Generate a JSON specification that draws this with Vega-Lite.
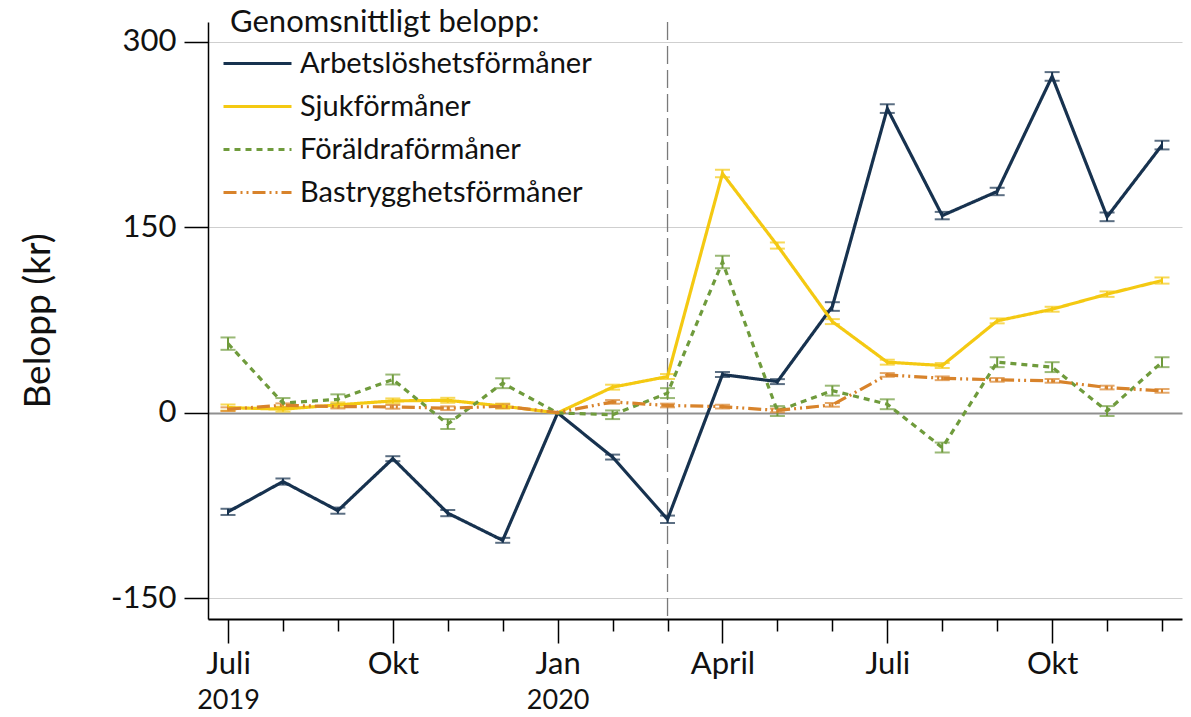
{
  "$schema": "https://vega.github.io/schema/vega-lite/v6.json",
  "autosize": {"type": "none"},
  "width": 974,
  "height": 597,
  "padding": {"left": 208, "top": 22, "right": 9, "bottom": 98},
  "background": "white",
  "config": {
    "font": "Lato",
    "view": {"stroke": null},
    "axis": {"labelFont": "Lato", "titleFont": "Lato", "labelColor": "#111", "titleColor": "#111", "domainColor": "#000", "tickColor": "#000"}
  },
  "datasets": {
    "d": [
      {"m": 0, "s": "Arbetslöshetsförmåner", "v": -80, "lo": -82.5, "hi": -77.5},
      {"m": 1, "s": "Arbetslöshetsförmåner", "v": -55.5, "lo": -58, "hi": -53},
      {"m": 2, "s": "Arbetslöshetsförmåner", "v": -79, "lo": -81.5, "hi": -76.5},
      {"m": 3, "s": "Arbetslöshetsförmåner", "v": -37, "lo": -39, "hi": -35},
      {"m": 4, "s": "Arbetslöshetsförmåner", "v": -81, "lo": -83.5, "hi": -78.5},
      {"m": 5, "s": "Arbetslöshetsförmåner", "v": -103, "lo": -105, "hi": -101},
      {"m": 6, "s": "Arbetslöshetsförmåner", "v": 0, "lo": 0, "hi": 0},
      {"m": 7, "s": "Arbetslöshetsförmåner", "v": -35.7, "lo": -37.7, "hi": -33.7},
      {"m": 8, "s": "Arbetslöshetsförmåner", "v": -86, "lo": -89, "hi": -83},
      {"m": 9, "s": "Arbetslöshetsförmåner", "v": 31, "lo": 29, "hi": 33},
      {"m": 10, "s": "Arbetslöshetsförmåner", "v": 25.3, "lo": 23.3, "hi": 27.3},
      {"m": 11, "s": "Arbetslöshetsförmåner", "v": 86, "lo": 82.5, "hi": 89.5},
      {"m": 12, "s": "Arbetslöshetsförmåner", "v": 246, "lo": 242.5, "hi": 249.5},
      {"m": 13, "s": "Arbetslöshetsförmåner", "v": 159.5, "lo": 156.5, "hi": 162.5},
      {"m": 14, "s": "Arbetslöshetsförmåner", "v": 179, "lo": 176, "hi": 182},
      {"m": 15, "s": "Arbetslöshetsförmåner", "v": 272, "lo": 268.5, "hi": 275.5},
      {"m": 16, "s": "Arbetslöshetsförmåner", "v": 158.5, "lo": 155, "hi": 162},
      {"m": 17, "s": "Arbetslöshetsförmåner", "v": 216.5, "lo": 213, "hi": 220},
      {"m": 0, "s": "Sjukförmåner", "v": 4.3, "lo": 1.8, "hi": 6.8},
      {"m": 1, "s": "Sjukförmåner", "v": 3, "lo": 1, "hi": 5},
      {"m": 2, "s": "Sjukförmåner", "v": 6.5, "lo": 4.5, "hi": 8.5},
      {"m": 3, "s": "Sjukförmåner", "v": 9.7, "lo": 7.7, "hi": 11.7},
      {"m": 4, "s": "Sjukförmåner", "v": 10.2, "lo": 8.2, "hi": 12.2},
      {"m": 5, "s": "Sjukförmåner", "v": 5.5, "lo": 3.5, "hi": 7.5},
      {"m": 6, "s": "Sjukförmåner", "v": 0, "lo": 0, "hi": 0},
      {"m": 7, "s": "Sjukförmåner", "v": 20.8, "lo": 18.8, "hi": 22.8},
      {"m": 8, "s": "Sjukförmåner", "v": 29.4, "lo": 27.4, "hi": 31.4},
      {"m": 9, "s": "Sjukförmåner", "v": 193.5, "lo": 190.5, "hi": 196.5},
      {"m": 10, "s": "Sjukförmåner", "v": 135.3, "lo": 132.8, "hi": 137.8},
      {"m": 11, "s": "Sjukförmåner", "v": 73.8, "lo": 71.8, "hi": 75.8},
      {"m": 12, "s": "Sjukförmåner", "v": 41, "lo": 39, "hi": 43},
      {"m": 13, "s": "Sjukförmåner", "v": 38.3, "lo": 36.3, "hi": 40.3},
      {"m": 14, "s": "Sjukförmåner", "v": 74.4, "lo": 72.4, "hi": 76.4},
      {"m": 15, "s": "Sjukförmåner", "v": 83.8, "lo": 81.8, "hi": 85.8},
      {"m": 16, "s": "Sjukförmåner", "v": 96, "lo": 93.8, "hi": 98.2},
      {"m": 17, "s": "Sjukförmåner", "v": 107, "lo": 104.5, "hi": 109.5},
      {"m": 0, "s": "Föräldraförmåner", "v": 56, "lo": 51, "hi": 61},
      {"m": 1, "s": "Föräldraförmåner", "v": 8, "lo": 4, "hi": 12},
      {"m": 2, "s": "Föräldraförmåner", "v": 11, "lo": 7, "hi": 15},
      {"m": 3, "s": "Föräldraförmåner", "v": 27, "lo": 23, "hi": 31},
      {"m": 4, "s": "Föräldraförmåner", "v": -9, "lo": -13, "hi": -5},
      {"m": 5, "s": "Föräldraförmåner", "v": 24, "lo": 20, "hi": 28},
      {"m": 6, "s": "Föräldraförmåner", "v": 0, "lo": 0, "hi": 0},
      {"m": 7, "s": "Föräldraförmåner", "v": -1.5, "lo": -5, "hi": 2},
      {"m": 8, "s": "Föräldraförmåner", "v": 16, "lo": 12, "hi": 20},
      {"m": 9, "s": "Föräldraförmåner", "v": 122, "lo": 117, "hi": 127},
      {"m": 10, "s": "Föräldraförmåner", "v": 1.5, "lo": -2.5, "hi": 5.5},
      {"m": 11, "s": "Föräldraförmåner", "v": 18, "lo": 14, "hi": 22},
      {"m": 12, "s": "Föräldraförmåner", "v": 7, "lo": 3, "hi": 11},
      {"m": 13, "s": "Föräldraförmåner", "v": -28, "lo": -32, "hi": -24},
      {"m": 14, "s": "Föräldraförmåner", "v": 41, "lo": 37, "hi": 45},
      {"m": 15, "s": "Föräldraförmåner", "v": 37, "lo": 33, "hi": 41},
      {"m": 16, "s": "Föräldraförmåner", "v": 1.5, "lo": -2.5, "hi": 5.5},
      {"m": 17, "s": "Föräldraförmåner", "v": 41, "lo": 37, "hi": 45},
      {"m": 0, "s": "Bastrygghetsförmåner", "v": 3, "lo": 1.5, "hi": 4.5},
      {"m": 1, "s": "Bastrygghetsförmåner", "v": 6.2, "lo": 4.7, "hi": 7.7},
      {"m": 2, "s": "Bastrygghetsförmåner", "v": 5.1, "lo": 3.6, "hi": 6.6},
      {"m": 3, "s": "Bastrygghetsförmåner", "v": 4.9, "lo": 3.4, "hi": 6.4},
      {"m": 4, "s": "Bastrygghetsförmåner", "v": 3.8, "lo": 2.3, "hi": 5.3},
      {"m": 5, "s": "Bastrygghetsförmåner", "v": 5.4, "lo": 3.9, "hi": 6.9},
      {"m": 6, "s": "Bastrygghetsförmåner", "v": 0.3, "lo": 0, "hi": 0.6},
      {"m": 7, "s": "Bastrygghetsförmåner", "v": 8.9, "lo": 7.4, "hi": 10.4},
      {"m": 8, "s": "Bastrygghetsförmåner", "v": 6, "lo": 4.5, "hi": 7.5},
      {"m": 9, "s": "Bastrygghetsförmåner", "v": 5.1, "lo": 3.6, "hi": 6.6},
      {"m": 10, "s": "Bastrygghetsförmåner", "v": 2, "lo": 0.5, "hi": 3.5},
      {"m": 11, "s": "Bastrygghetsförmåner", "v": 6.5, "lo": 5, "hi": 8},
      {"m": 12, "s": "Bastrygghetsförmåner", "v": 30.7, "lo": 29.2, "hi": 32.2},
      {"m": 13, "s": "Bastrygghetsförmåner", "v": 28, "lo": 26.5, "hi": 29.5},
      {"m": 14, "s": "Bastrygghetsförmåner", "v": 26.7, "lo": 25.2, "hi": 28.2},
      {"m": 15, "s": "Bastrygghetsförmåner", "v": 25.9, "lo": 24.4, "hi": 27.4},
      {"m": 16, "s": "Bastrygghetsförmåner", "v": 20.5, "lo": 19, "hi": 22},
      {"m": 17, "s": "Bastrygghetsförmåner", "v": 17.8, "lo": 16.3, "hi": 19.3}
    ]
  },
  "resolve": {"axis": {"x": "independent"}},
  "layer": [
    {
      "data": {"values": [{"marker": "mars 2020"}]},
      "mark": {"type": "rule", "color": "#7a7a7a", "strokeWidth": 1.3, "strokeDash": [18, 6]},
      "encoding": {
        "x": {"datum": 8, "type": "quantitative",
          "scale": {"domain": [-0.364, 17.364], "nice": false, "zero": false},
          "axis": {"orient": "bottom", "values": [0, 6], "labelExpr": "datum.value == 0 ? '2019' : '2020'", "ticks": false, "domain": false, "grid": false, "labelFontSize": 27, "labelPadding": 68, "title": null, "labelBaseline": "top"}}
      }
    },
    {
      "data": {"name": "d"},
      "mark": {"type": "rule", "strokeWidth": 2},
      "encoding": {
        "x": {"field": "m", "type": "quantitative", "axis": null},
        "y": {"field": "lo", "type": "quantitative"},
        "y2": {"field": "hi"},
        "color": {"field": "s", "type": "nominal"}
      }
    },
    {
      "data": {"name": "d"},
      "mark": {"type": "tick", "orient": "horizontal", "size": 15, "thickness": 2},
      "encoding": {
        "x": {"field": "m", "type": "quantitative", "axis": null},
        "y": {"field": "lo", "type": "quantitative"},
        "color": {"field": "s", "type": "nominal"}
      }
    },
    {
      "data": {"name": "d"},
      "mark": {"type": "tick", "orient": "horizontal", "size": 15, "thickness": 2},
      "encoding": {
        "x": {"field": "m", "type": "quantitative", "axis": null},
        "y": {"field": "hi", "type": "quantitative"},
        "color": {"field": "s", "type": "nominal"}
      }
    },
    {
      "data": {"name": "d"},
      "mark": {"type": "line", "strokeWidth": 3.2},
      "encoding": {
        "x": {"field": "m", "type": "quantitative",
          "scale": {"domain": [-0.364, 17.364], "nice": false, "zero": false},
          "axis": {"orient": "bottom", "values": [0,1,2,3,4,5,6,7,8,9,10,11,12,13,14,15,16,17],
            "labelExpr": "datum.value % 3 != 0 ? '' : (datum.value % 12 == 0 ? 'Juli' : datum.value % 12 == 3 ? 'Okt' : datum.value % 12 == 6 ? 'Jan' : 'April')",
            "tickSize": {"condition": {"test": "datum.value % 3 == 0", "value": 24}, "value": 12},
            "tickWidth": 1.5, "domainWidth": 2, "grid": false, "labelFontSize": 31, "labelPadding": 6, "title": null, "labelBaseline": "top"}},
        "y": {"field": "v", "type": "quantitative",
          "scale": {"domain": [-166.6, 316], "nice": false, "zero": false},
          "axis": {"values": [-150, 0, 150, 300], "labelExpr": "replace(datum.label, '−', '-')", "tickSize": 24, "tickWidth": 1.5, "domainWidth": 1.5, "labelFontSize": 31, "labelPadding": 8,
            "title": "Belopp (kr)", "titleFontSize": 37, "titleFontWeight": "normal", "titlePadding": 53,
            "gridColor": {"condition": {"test": "datum.value == 0", "value": "#8f8f8f"}, "value": "#cfcfcf"},
            "gridWidth": {"condition": {"test": "datum.value == 0", "value": 2}, "value": 1}}},
        "color": {"field": "s", "type": "nominal",
          "scale": {"domain": ["Arbetslöshetsförmåner", "Sjukförmåner", "Föräldraförmåner", "Bastrygghetsförmåner"], "range": ["#17324f", "#f4c912", "#6f9b3c", "#d8832b"]},
          "legend": {"title": "Genomsnittligt belopp:", "orient": "none", "legendX": 14, "legendY": -14,
            "titleFontSize": 31, "titleFontWeight": "normal", "titleColor": "#111", "titlePadding": 3, "titleLimit": 600,
            "labelFontSize": 29, "labelColor": "#111", "labelOffset": 7, "labelLimit": 600, "rowPadding": 0, "clipHeight": 43,
            "symbolType": "stroke", "symbolSize": 4624, "symbolStrokeWidth": 3,
            "encode": {"title": {"update": {"dx": {"value": 8}}}}}},
        "strokeDash": {"field": "s", "type": "nominal",
          "scale": {"domain": ["Arbetslöshetsförmåner", "Sjukförmåner", "Föräldraförmåner", "Bastrygghetsförmåner"], "range": [[1, 0], [1, 0], [6, 5], [13, 4, 2, 4, 2, 4]]},
          "legend": {"title": "Genomsnittligt belopp:", "orient": "none", "legendX": 14, "legendY": -14,
            "titleFontSize": 31, "titleFontWeight": "normal", "titleColor": "#111", "titlePadding": 3, "titleLimit": 600,
            "labelFontSize": 29, "labelColor": "#111", "labelOffset": 7, "labelLimit": 600, "rowPadding": 0, "clipHeight": 43,
            "symbolType": "stroke", "symbolSize": 4624, "symbolStrokeWidth": 3,
            "encode": {"title": {"update": {"dx": {"value": 8}}}}}}
      }
    }
  ]
}
